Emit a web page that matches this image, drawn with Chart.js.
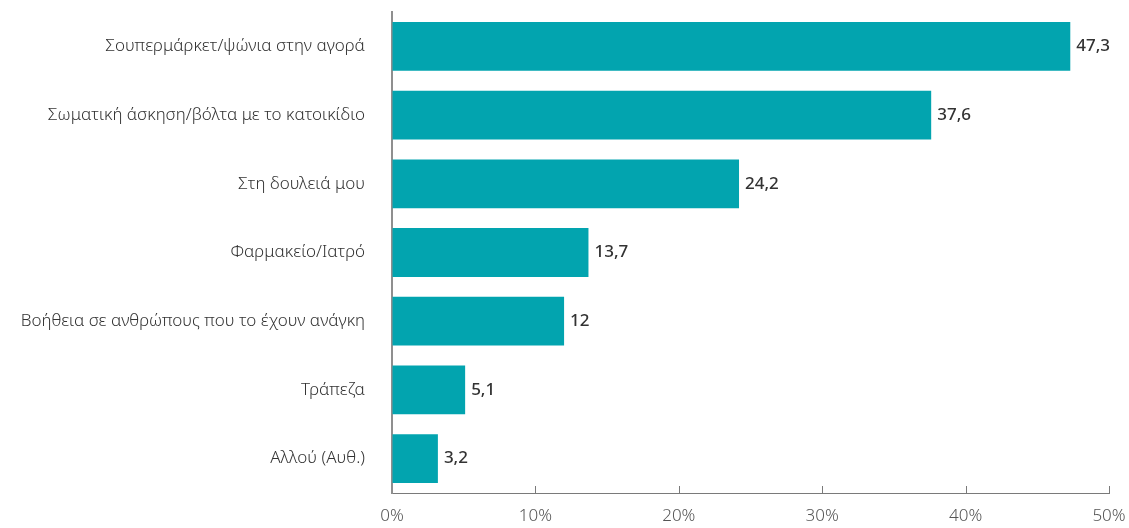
<!DOCTYPE html>
<html lang="el">
<head>
    <meta charset="UTF-8">
    <title>Έξοδοι</title>
    <script src="https://cdn.jsdelivr.net/npm/chart.js@4"></script>
    <style>
        html, body {
            margin: 0;
            padding: 0;
            background: #fff;
        }
        .chart-container {
            width: 1129px;
            height: 528px;
        }
    </style>
</head>
<body>
    <div class="chart-container">
        <canvas id="myChart"></canvas>
    </div>

    <script>
        // data
        const categories = [
            'Σουπερμάρκετ/ψώνια στην αγορά',
            'Σωματική άσκηση/βόλτα με το κατοικίδιο',
            'Στη δουλειά μου',
            'Φαρμακείο/Ιατρό',
            'Βοήθεια σε ανθρώπους που το έχουν ανάγκη',
            'Τράπεζα',
            'Αλλού (Αυθ.)'
        ];
        const values = [47.3, 37.6, 24.2, 13.7, 12, 5.1, 3.2];
        const xTicks = [0, 10, 20, 30, 40, 50];

        const fontFamily = "'Noto Sans', 'Open Sans', sans-serif";

        // value labels at the end of each bar
        const valueLabels = {
            id: 'valueLabels',
            afterDatasetsDraw(chart) {
                const ctx = chart.ctx;
                const meta = chart.getDatasetMeta(0);
                ctx.save();
                ctx.font = '500 17px ' + fontFamily;
                ctx.fillStyle = '#333';
                ctx.textBaseline = 'middle';
                ctx.textAlign = 'left';
                meta.data.forEach((bar, i) => {
                    ctx.fillText(values[i].toString().replace('.', ','), bar.x + 6, bar.y);
                });
                ctx.restore();
            }
        };

        // small tick marks pointing up from the x axis
        const innerTicks = {
            id: 'innerTicks',
            afterDraw(chart) {
                const ctx = chart.ctx;
                const x = chart.scales.x;
                const bottom = chart.chartArea.bottom;
                ctx.save();
                ctx.strokeStyle = '#7a7a7a';
                ctx.lineWidth = 1;
                xTicks.forEach(v => {
                    if (v === 0) return;
                    const px = Math.round(x.getPixelForValue(v)) + 0.5;
                    ctx.beginPath();
                    ctx.moveTo(px, bottom);
                    ctx.lineTo(px, bottom - 7);
                    ctx.stroke();
                });
                ctx.restore();
            }
        };

        const ctx = document.getElementById('myChart').getContext('2d');
        new Chart(ctx, {
            type: 'bar',
            data: {
                labels: categories,
                datasets: [{
                    data: values,
                    backgroundColor: '#02a4af',
                    categoryPercentage: 0.71,
                    barPercentage: 1.0
                }]
            },
            options: {
                indexAxis: 'y',
                responsive: true,
                maintainAspectRatio: false,
                animation: false,
                layout: {
                    padding: { top: 12, right: 20, left: 0, bottom: 0 }
                },
                plugins: {
                    legend: { display: false },
                    tooltip: { enabled: false }
                },
                scales: {
                    x: {
                        min: 0,
                        max: 50,
                        afterBuildTicks: function(scale) {
                            scale.ticks = xTicks.map(v => ({ value: v }));
                        },
                        afterFit: function(scale) {
                            scale.height = 35;
                            scale.paddingLeft = 0;
                            scale.paddingRight = 0;
                        },
                        grid: {
                            display: true,
                            drawOnChartArea: false,
                            drawTicks: false
                        },
                        border: {
                            display: true,
                            color: '#7a7a7a',
                            width: 1
                        },
                        ticks: {
                            padding: 13,
                            color: '#555',
                            font: { family: fontFamily, size: 17, weight: '300' },
                            callback: function(value) { return value + '%'; }
                        }
                    },
                    y: {
                        afterFit: function(scale) {
                            scale.width = 392;
                            scale.paddingTop = 0;
                            scale.paddingBottom = 0;
                        },
                        grid: {
                            display: false,
                            drawTicks: false
                        },
                        border: {
                            display: true,
                            color: '#8f8f8f',
                            width: 2
                        },
                        ticks: {
                            padding: 27,
                            color: '#333',
                            font: { family: fontFamily, size: 17, weight: '300' }
                        }
                    }
                }
            },
            plugins: [valueLabels, innerTicks]
        });
    </script>
</body>
</html>
